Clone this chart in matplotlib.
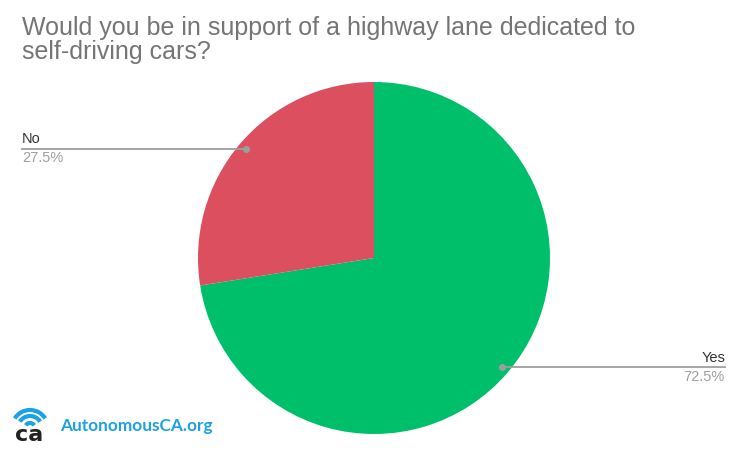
import numpy as np
import matplotlib.pyplot as plt
from matplotlib.patches import Arc

# Data
labels = ["Yes", "No"]
values = [72.5, 27.5]
colors = ["#00bf6b", "#db4f5e"]
title = "Would you be in support of a highway lane dedicated to\nself-driving cars?"

W, H = 745, 453
fig = plt.figure(figsize=(W / 100, H / 100), dpi=100)
ax = fig.add_axes([0, 0, 1, 1])

cx, cy, r = 374, H - 258, 176
wedges, _ = ax.pie(values, colors=colors, startangle=90, counterclock=False,
                   center=(cx, cy), radius=r, frame=True)
ax.set_xlim(0, W)
ax.set_ylim(0, H)
ax.axis("off")

# Leader lines and labels
for w, lab, val in zip(wedges, labels, values):
    mid = np.deg2rad((w.theta1 + w.theta2) / 2)
    px = cx + 0.955 * r * np.cos(mid)
    py = cy + 0.955 * r * np.sin(mid)
    if np.cos(mid) >= 0:
        ex, ha = 725, "right"
    else:
        ex, ha = 22, "left"
    ax.plot([px, ex], [py, py], color="#9e9e9e", lw=1.3, zorder=3)
    ax.plot(px, py, "o", color="#9e9e9e", ms=4, zorder=4)
    ax.text(ex, py + 2.5, lab, ha=ha, va="bottom", fontsize=10.5,
            family="Liberation Sans", color="#333333")
    ax.text(ex, py - 2.5, f"{val}%", ha=ha, va="top", fontsize=10.5,
            family="Liberation Sans", color="#9e9e9e")

# Title
fig.text(22 / W, 1 - 16 / H, title, ha="left", va="top", fontsize=18,
         family="Liberation Sans", color="#757575", linespacing=0.98)

# Logo
blue = "#1ca1e4"
for rad in (18, 12, 5):
    ax.add_patch(Arc((30, H - 428), 2 * rad, 2 * rad, theta1=32, theta2=148,
                     color=blue, lw=3))
ax.text(29, H - 435, "ca", ha="center", va="center", fontsize=16,
        fontweight="bold", family="DejaVu Sans", color="#222222")
ax.text(60, H - 426, "AutonomousCA.org", ha="left", va="center", fontsize=12.4,
        fontweight="bold", family="Lato", color=blue)

plt.savefig("out.png", dpi=100)
